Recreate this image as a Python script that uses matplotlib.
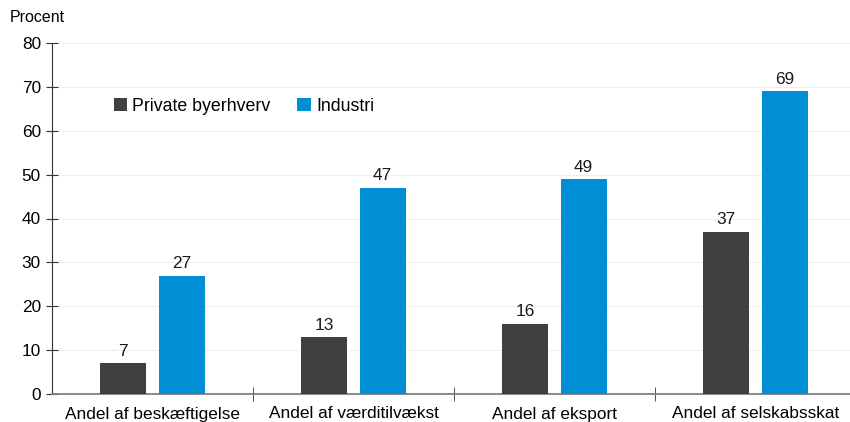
import matplotlib
matplotlib.use("Agg")
import matplotlib.pyplot as plt
import numpy as np

plt.rcParams['font.family'] = ['Liberation Sans', 'DejaVu Sans']

categories = ["Andel af beskæftigelse", "Andel af værditilvækst", "Andel af eksport", "Andel af selskabsskat"]
private = [7, 13, 16, 37]
industri = [27, 47, 49, 69]
series_names = ["Private byerhverv", "Industri"]
colors = ["#404040", "#008FD5"]

fig = plt.figure(figsize=(8.5, 4.22), dpi=100)
ax = fig.add_axes([52/850, (422-394)/422, (856-52)/850, (394-43)/422])

x = np.arange(len(categories))
w = 0.23
off = 0.145
b1 = ax.bar(x - off, private, w, color=colors[0], label=series_names[0], zorder=3)
b2 = ax.bar(x + off, industri, w, color=colors[1], label=series_names[1], zorder=3)
for bars, vals in ((b1, private), (b2, industri)):
    for r, v in zip(bars, vals):
        ax.text(r.get_x() + r.get_width()/2, v + 1.0, str(v), ha='center', va='bottom', fontsize=12.4, color='#1a1a1a')

ax.set_xlim(-0.5, len(categories) - 0.5)
ax.set_ylim(0, 80)
ax.set_yticks(range(0, 81, 10))
ax.yaxis.grid(True, color='#eeeeee', linewidth=0.8, zorder=0)
ax.set_axisbelow(True)

ax.set_xticks(x)
ax.set_xticklabels(categories, fontsize=12.4)
ax.tick_params(axis='x', length=0, pad=9)
ax.set_xticks(np.arange(0.5, len(categories) - 0.5, 1), minor=True)
ax.tick_params(axis='x', which='minor', length=10, direction='inout', color='#333333')
ax.tick_params(axis='y', labelsize=12.4, length=8, direction='inout', color='#333333', pad=4)

for s in ['top', 'right']:
    ax.spines[s].set_visible(False)
ax.spines['left'].set_color('#333333')
ax.spines['bottom'].set_color('#808080')
ax.spines['bottom'].set_linewidth(1.3)

fig.text(10/850, 1 - 18/422, "Procent", fontsize=11.5, ha='left', va='center')

leg = ax.legend(loc='upper left', bbox_to_anchor=(0.057, 0.89), ncol=2, frameon=False,
                fontsize=12.8, handlelength=0.75, handleheight=0.75, handletextpad=0.3, columnspacing=1.5)

fig.savefig("out.png", dpi=100)
